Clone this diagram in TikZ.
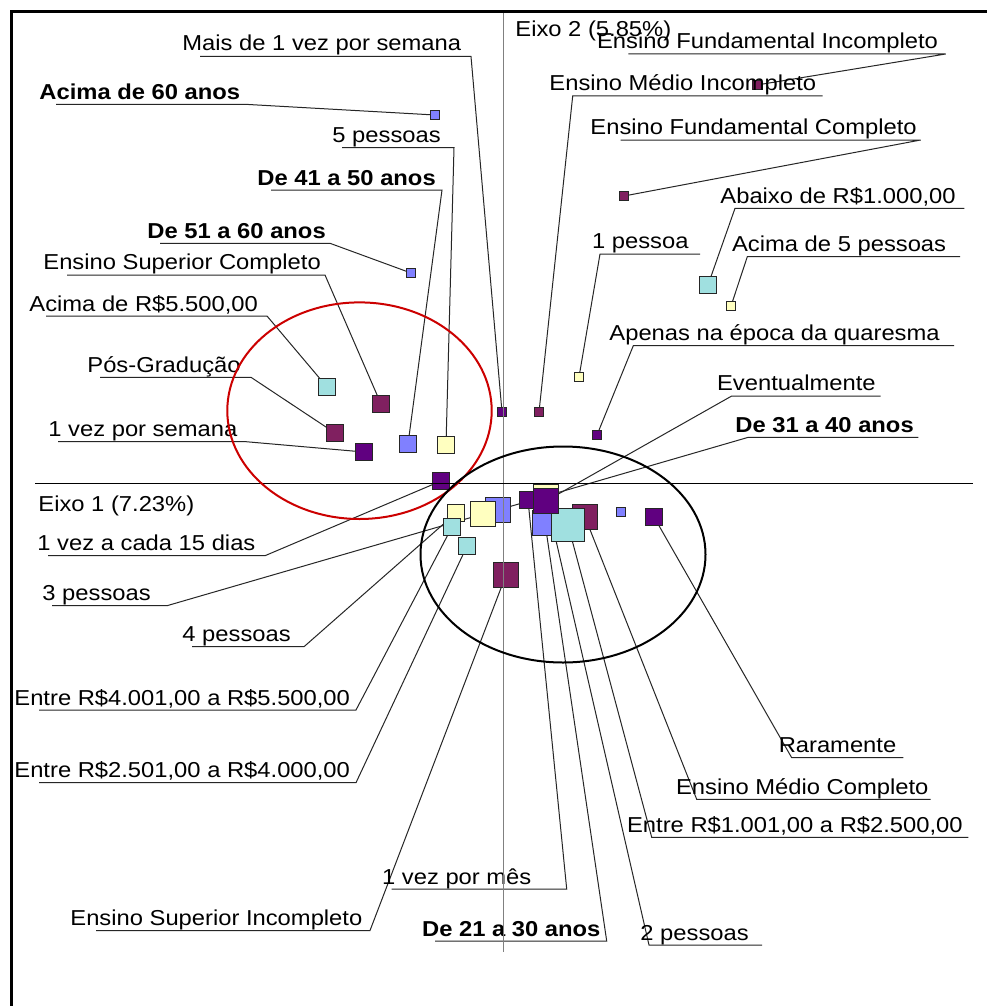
\documentclass[tikz,border=0pt]{standalone}
\usepackage{fontspec}
\setmainfont{Liberation Sans}
\usepackage{tikz}

\pgfdeclarelayer{fundo}
\pgfsetlayers{fundo,main}

\definecolor{idade}{HTML}{8080FF}
\definecolor{pessoas}{HTML}{FFFFC0}
\definecolor{escola}{HTML}{802060}
\definecolor{renda}{HTML}{A0E0E0}
\definecolor{freq}{HTML}{600080}

\tikzset{
  mk/.style={rectangle, draw=black!85, line width=0.45pt, inner sep=0pt, minimum size=#1},
  rot/.style={anchor=base west, inner sep=0pt, xscale=1.1, font=\fontsize{10.8}{13}\selectfont},
  rotb/.style={rot, font=\fontsize{10.8}{13}\selectfont\bfseries},
  lig/.style={line width=0.5pt, black!85},
}

\begin{document}
\begin{tikzpicture}[x=0.5pt, y=-0.5pt]
        \useasboundingbox (0,0) rectangle (987,1006);

        % Faixa etaria
        \node[mk=4.2pt, fill=idade] (a60) at (435,115) {};
        \node[mk=4.2pt, fill=idade] (a51) at (411,273) {};
        \node[mk=8.5pt, fill=idade] (a41) at (408,444) {};
        \node[mk=12.5pt, fill=idade] (a31) at (498,510) {};
        \node[mk=12.5pt, fill=idade] (a21) at (545,523) {};
        \node[mk=4.2pt, fill=idade] (a20) at (621,512) {};

        % Pessoas na casa
        \node[mk=4.2pt, fill=pessoas] (p1) at (579,377) {};
        \node[mk=4.2pt, fill=pessoas] (p6) at (731,306) {};
        \node[mk=8.5pt, fill=pessoas] (p5) at (446,445) {};
        \node[mk=8.5pt, fill=pessoas] (p4) at (456,513) {};
        \node[mk=12.5pt, fill=pessoas] (p3) at (483,514) {};
        \node[mk=12.5pt, fill=pessoas] (p2) at (546,497) {};

        % Escolaridade
        \node[mk=4.2pt, fill=escola] (efi) at (757,85) {};
        \node[mk=4.2pt, fill=escola] (efc) at (624,196) {};
        \node[mk=4.2pt, fill=escola] (emi) at (539,412) {};
        \node[mk=8.5pt, fill=escola] (esc) at (381,404) {};
        \node[mk=8.5pt, fill=escola] (epg) at (335,433) {};
        \node[mk=12.5pt, fill=escola] (emc) at (585,517) {};
        \node[mk=12.5pt, fill=escola] (esi) at (506,575) {};

        % Renda
        \node[mk=8.5pt, fill=renda] (r1) at (708,285) {};
        \node[mk=8.5pt, fill=renda] (r5) at (327,387) {};
        \node[mk=8.5pt, fill=renda] (r4) at (452,527) {};
        \node[mk=8.5pt, fill=renda] (r3) at (467,546) {};
        \node[mk=16.7pt, fill=renda] (r2) at (568,525) {};

        % Frequencia
        \node[mk=4.2pt, fill=freq] (f1) at (502,412) {};
        \node[mk=4.2pt, fill=freq] (f7) at (597,435) {};
        \node[mk=8.5pt, fill=freq] (f2) at (364,452) {};
        \node[mk=8.5pt, fill=freq] (f3) at (441,481) {};
        \node[mk=8.5pt, fill=freq] (f4) at (528,500) {};
        \node[mk=8.5pt, fill=freq] (f6) at (654,517) {};
        \node[mk=12.5pt, fill=freq] (f5) at (546,501) {};

        % Rotulos
        \node[rot] (tf1) at (182,50.5) {Mais de 1 vez por semana};
        \node[rotb] (ta60) at (39,99) {Acima de 60 anos};
        \node[rot] (tp5) at (332,142.5) {5 pessoas};
        \node[rotb] (ta41) at (257,185) {De 41 a 50 anos};
        \node[rotb] (ta51) at (147,238) {De 51 a 60 anos};
        \node[rot] (tesc) at (43,269.5) {Ensino Superior Completo};
        \node[rot] (tr5) at (29,311) {Acima de R\$5.500,00};
        \node[rot] (tepg) at (87,372) {Pós-Gradução};
        \node[rot] (tf2) at (48,436.5) {1 vez por semana};
        \node[rot] (tf3) at (37,550.5) {1 vez a cada 15 dias};
        \node[rot] (tp3) at (42,600.5) {3 pessoas};
        \node[rot] (tp4) at (182,641.5) {4 pessoas};
        \node[rot] (tr4) at (14,705) {Entre R\$4.001,00 a R\$5.500,00};
        \node[rot] (tr3) at (14,777.5) {Entre R\$2.501,00 a R\$4.000,00};
        \node[rot] (tesi) at (70,925) {Ensino Superior Incompleto};
        \node[rot] (tf4) at (381.7,884) {1 vez por mês};
        \node[rotb] (ta21) at (421.7,936) {De 21 a 30 anos};
        \node[rot] (tp2) at (640,940) {2 pessoas};
        \node[rot] (tefi) at (596.7,48.5) {Ensino Fundamental Incompleto};
        \node[rot] (temi) at (549,90.5) {Ensino Médio Incompleto};
        \node[rot] (tefc) at (590,134.5) {Ensino Fundamental Completo};
        \node[rot] (tr1) at (720,203) {Abaixo de R\$1.000,00};
        \node[rot] (tp1) at (591.7,248.5) {1 pessoa};
        \node[rot] (tp6) at (731.7,251) {Acima de 5 pessoas};
        \node[rot] (tf7) at (609,340.5) {Apenas na época da quaresma};
        \node[rot] (tf5) at (716.7,390.5) {Eventualmente};
        \node[rotb] (ta31) at (735,432) {De 31 a 40 anos};
        \node[rot] (tf6) at (778.3,752) {Raramente};
        \node[rot] (temc) at (675.7,794) {Ensino Médio Completo};
        \node[rot] (tr2) at (626.7,832) {Entre R\$1.001,00 a R\$2.500,00};

        % Eixos
        \node[rot] (eixo2) at (515,36.7) {Eixo 2 (5.85\%)};
        \node[rot] (eixo1) at (38,511.7) {Eixo 1 (7.23\%)};

        % Linhas de chamada
        \begin{pgfonlayer}{fundo}
        \fill[white] (0,0) rectangle (987,1006);
        \draw[lig] (200,56.5) -- (471,56.5) -- (f1.center);
        \draw[lig] (56,104.3) -- (245,104.3) -- (a60.center);
        \draw[lig] (342,147.7) -- (454,147.7) -- (p5.center);
        \draw[lig] (271,190) -- (442,190) -- (a41.center);
        \draw[lig] (160,243.3) -- (330,243.3) -- (a51.center);
        \draw[lig] (67,275) -- (325,275) -- (esc.center);
        \draw[lig] (46,316) -- (267,316) -- (r5.center);
        \draw[lig] (100,377.3) -- (251,377.3) -- (epg.center);
        \draw[lig] (58,441.7) -- (246,441.7) -- (f2.center);
        \draw[lig] (48,555.7) -- (265,555.7) -- (f3.center);
        \draw[lig] (52,605.7) -- (167,605.7) -- (p3.center);
        \draw[lig] (192,646.7) -- (304,646.7) -- (p4.center);
        \draw[lig] (39,710) -- (356,710) -- (r4.center);
        \draw[lig] (39,782.7) -- (356,782.7) -- (r3.center);
        \draw[lig] (96,930.5) -- (370,930.5) -- (esi.center);
        \draw[lig] (391.7,889) -- (566.7,889) -- (f4.center);
        \draw[lig] (435,941) -- (606.7,941) -- (a21.center);
        \draw[lig] (762,945) -- (649,945) -- (p2.center);
        \draw[lig] (628.3,54) -- (945.7,54) -- (efi.center);
        \draw[lig] (822.7,96) -- (572.7,96) -- (emi.center);
        \draw[lig] (620.7,140) -- (920.7,140) -- (efc.center);
        \draw[lig] (964.3,208.3) -- (735,208.3) -- (r1.center);
        \draw[lig] (700,254) -- (600,254) -- (p1.center);
        \draw[lig] (960,256.7) -- (747.3,256.7) -- (p6.center);
        \draw[lig] (954,345.7) -- (633.3,345.7) -- (f7.center);
        \draw[lig] (880.7,396) -- (731.7,396) -- (f5.center);
        \draw[lig] (918.3,437.3) -- (748.3,437.3) -- (a31.center);
        \draw[lig] (903.3,757.7) -- (791.7,757.7) -- (f6.center);
        \draw[lig] (930.7,799.3) -- (696.7,799.3) -- (emc.center);
        \draw[lig] (968.3,837.3) -- (651.7,837.3) -- (r2.center);
        \end{pgfonlayer}

        \draw[black!50, line width=0.75pt] (503.5,12) -- (503.5,952);
        \draw[line width=0.5pt] (35,483.3) -- (972.5,483.3);

        % Agrupamentos
        \draw[red!80!black, line width=1pt] (359.5,410.7) ellipse [x radius=132.2, y radius=108.3];
        \draw[line width=1pt] (563,554.5) ellipse [x radius=142.5, y radius=108];

        % Moldura
        \draw[line width=1.6pt] (11.5,1006) -- (11.5,11.5) -- (987,11.5);
\end{tikzpicture}
\end{document}
